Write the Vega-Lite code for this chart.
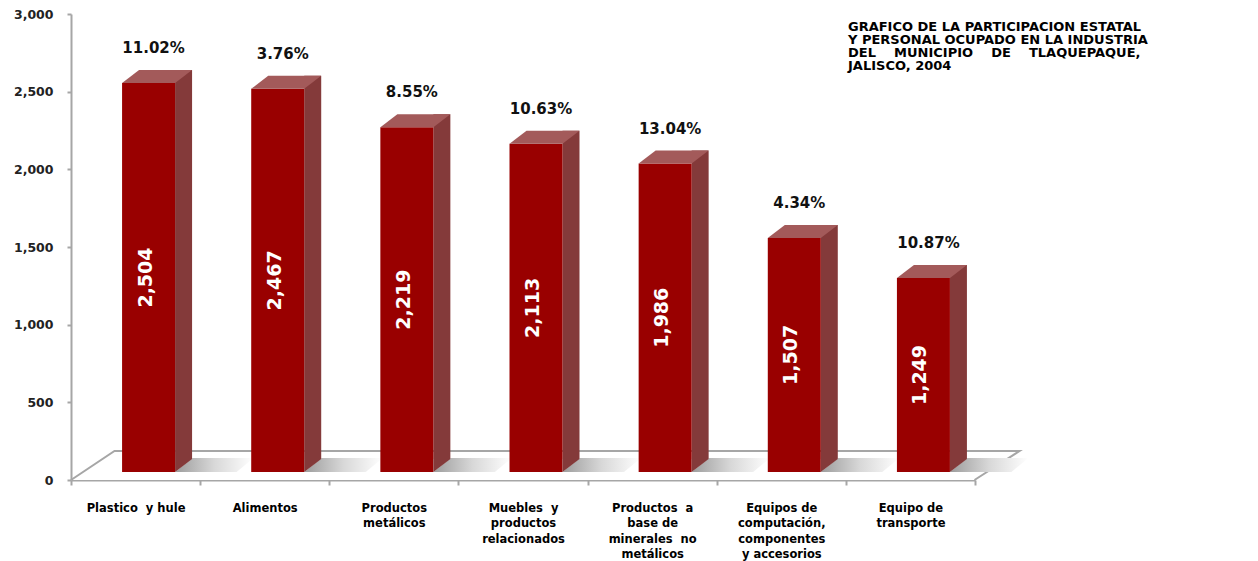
{
  "$schema": "https://vega.github.io/schema/vega-lite/v6.json",
  "width": 904,
  "height": 466,
  "autosize": {"type": "none"},
  "padding": {"left": 71, "top": 14, "right": 283, "bottom": 81},
  "background": "white",
  "config": {"view": {"stroke": null}, "font": "DejaVu Sans"},
  "title": {
    "text": ["GRAFICO DE LA PARTICIPACION ESTATAL", "Y PERSONAL OCUPADO EN LA INDUSTRIA", "DEL\u00a0\u00a0\u00a0 MUNICIPIO\u00a0\u00a0\u00a0 DE\u00a0\u00a0\u00a0 TLAQUEPAQUE,", "JALISCO, 2004"],
    "anchor": "start",
    "align": "left",
    "orient": "top",
    "frame": "group",
    "baseline": "top",
    "offset": 0,
    "dx": 777,
    "dy": 65,
    "fontSize": 13,
    "fontWeight": 900,
    "font": "DejaVu Sans",
    "lineHeight": 13,
    "color": "#000000"
  },
  "data": {
    "values": [
      {"cat": "Plastico y hule", "value": 2504, "pct": "11.02%"},
      {"cat": "Alimentos", "value": 2467, "pct": "3.76%"},
      {"cat": "Productos metálicos", "value": 2219, "pct": "8.55%"},
      {"cat": "Muebles y productos relacionados", "value": 2113, "pct": "10.63%"},
      {"cat": "Productos a base de minerales no metálicos", "value": 1986, "pct": "13.04%"},
      {"cat": "Equipos de computación, componentes y accesorios", "value": 1507, "pct": "4.34%"},
      {"cat": "Equipo de transporte", "value": 1249, "pct": "10.87%"}
    ]
  },
  "encoding": {
    "x": {
      "field": "cat",
      "type": "nominal",
      "sort": null,
      "scale": {
        "domain": ["Plastico y hule", "Alimentos", "Productos metálicos", "Muebles y productos relacionados", "Productos a base de minerales no metálicos", "Equipos de computación, componentes y accesorios", "Equipo de transporte"],
        "paddingInner": 0,
        "paddingOuter": 0
      },
      "axis": {
        "title": null,
        "labelAngle": 0,
        "labelExpr": "datum.value == 'Plastico y hule' ? 'Plastico\u00a0 y hule' : datum.value == 'Productos metálicos' ? ['Productos', 'metálicos'] : datum.value == 'Muebles y productos relacionados' ? ['Muebles\u00a0 y', 'productos', 'relacionados'] : datum.value == 'Productos a base de minerales no metálicos' ? ['Productos\u00a0 a', 'base de', 'minerales\u00a0 no', 'metálicos'] : datum.value == 'Equipos de computación, componentes y accesorios' ? ['Equipos de', 'computación,', 'componentes', 'y accesorios'] : datum.value == 'Equipo de transporte' ? ['Equipo de', 'transporte'] : datum.value",
        "labelFontWeight": "bold",
        "labelFontSize": 11.5,
        "labelColor": "#000000",
        "labelLineHeight": 15.5,
        "labelPadding": 17,
        "labelBaseline": "top",
        "labelOverlap": false,
        "tickSize": 5,
        "tickColor": "#a6a6a6",
        "tickWidth": 2,
        "tickBand": "extent",
        "domainColor": "#a6a6a6",
        "domainWidth": 2
      }
    }
  },
  "layer": [
    {
      "layer": [
        {
          "data": {"values": [{"f": 1}]},
          "mark": {"type": "point", "shape": "M -452,0 L -408.5,-29 L 496.5,-29 L 451.5,0", "size": 4, "filled": true, "fill": "#ffffff", "stroke": "#a6a6a6", "strokeWidth": 2, "opacity": 1},
          "encoding": {
            "x": {"datum": "Muebles y productos relacionados"},
            "y": {"datum": 0, "type": "quantitative"}
          }
        },
        {
          "mark": {
            "type": "point",
            "shape": "M 26.5,0 L 44,-14 L 105,-14 L 88,0 Z",
            "size": 4,
            "filled": true,
            "opacity": 1,
            "strokeWidth": 0,
            "xOffset": 13,
            "yOffset": -8,
            "fill": {"gradient": "linear", "x1": 0, "y1": 0, "x2": 1, "y2": 0, "stops": [{"offset": 0, "color": "#9c9c9c"}, {"offset": 0.5, "color": "#d8d8d8"}, {"offset": 1, "color": "#ffffff"}]}
          },
          "encoding": {"y": {"datum": 0, "type": "quantitative"}}
        },
        {
          "mark": {"type": "bar", "width": 17, "xOffset": 48, "yOffset": -21, "y2Offset": -21, "color": "#843a3a"},
          "encoding": {
            "y": {
              "field": "value",
              "type": "quantitative",
              "scale": {"domain": [0, 3000]},
              "axis": {
                "title": null,
                "values": [0, 500, 1000, 1500, 2000, 2500, 3000],
                "labelExpr": "format(datum.value, ',')",
                "grid": false,
                "labelFontWeight": "bold",
                "labelFontSize": 12.5,
                "labelColor": "#222222",
                "labelPadding": 14,
                "tickSize": 4,
                "tickColor": "#a6a6a6",
                "tickWidth": 2,
                "domainColor": "#a6a6a6",
                "domainWidth": 2
              }
            },
            "y2": {"datum": 0}
          }
        },
        {
          "mark": {"type": "bar", "width": 53, "xOffset": 13, "yOffset": -8, "y2Offset": -8, "color": "#990000"},
          "encoding": {
            "y": {"field": "value", "type": "quantitative"},
            "y2": {"datum": 0}
          }
        },
        {
          "mark": {"type": "point", "shape": "M 26.5,-13 L 26.5,0 L 43.5,-13 Z", "size": 4, "filled": true, "opacity": 1, "strokeWidth": 0, "fill": "#843a3a", "xOffset": 13, "yOffset": -8},
          "encoding": {"y": {"datum": 0, "type": "quantitative"}}
        },
        {
          "mark": {"type": "point", "shape": "M -26.5,0 L -9.5,-13 L 43.5,-13 L 26.5,0 Z", "size": 4, "filled": true, "opacity": 1, "strokeWidth": 0, "fill": "#a35a5a", "xOffset": 13, "yOffset": -8},
          "encoding": {"y": {"field": "value", "type": "quantitative"}}
        },
        {
          "mark": {"type": "text", "xOffset": 18, "yOffset": -8, "dy": -35, "fontSize": 15, "fontWeight": "bold", "color": "#111111", "baseline": "middle", "align": "center"},
          "encoding": {
            "y": {"field": "value", "type": "quantitative"},
            "text": {"field": "pct"}
          }
        }
      ]
    },
    {
      "mark": {"type": "text", "xOffset": 10, "yOffset": -8, "angle": 270, "fontSize": 19, "fontWeight": "bold", "color": "#ffffff", "baseline": "middle", "align": "center"},
      "encoding": {
        "y": {"field": "value", "type": "quantitative", "scale": {"domain": [0, 6000]}, "axis": null},
        "text": {"field": "value", "type": "quantitative", "format": ","}
      }
    }
  ],
  "resolve": {"scale": {"y": "independent"}}
}
